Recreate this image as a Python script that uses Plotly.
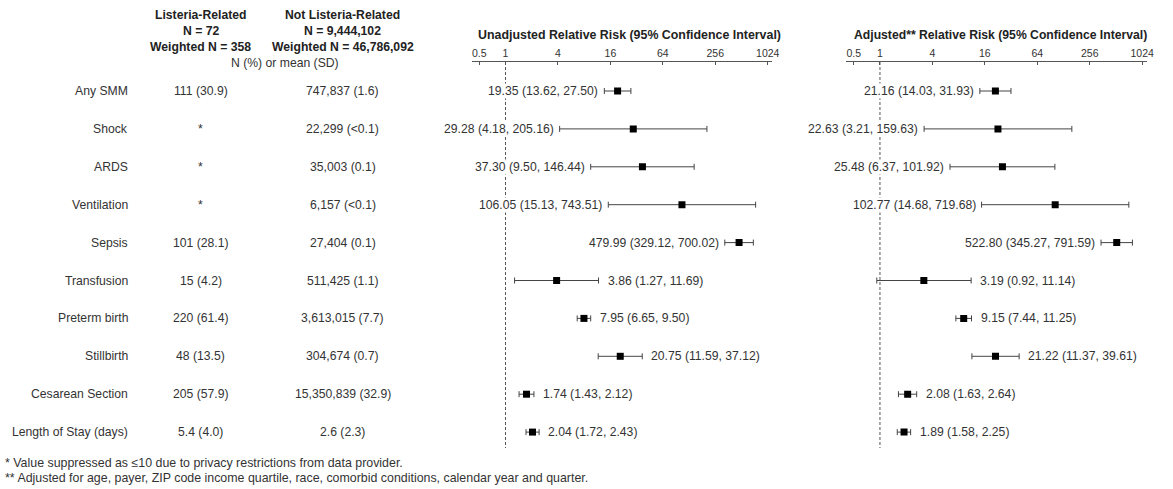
import math
import plotly.graph_objects as go

# ---------------- data ----------------
outcomes = ["Any SMM", "Shock", "ARDS", "Ventilation", "Sepsis", "Transfusion",
            "Preterm birth", "Stillbirth", "Cesarean Section", "Length of Stay (days)"]
listeria_vals = ["111 (30.9)", "*", "*", "*", "101 (28.1)", "15 (4.2)",
                 "220 (61.4)", "48 (13.5)", "205 (57.9)", "5.4 (4.0)"]
not_listeria_vals = ["747,837 (1.6)", "22,299 (<0.1)", "35,003 (0.1)", "6,157 (<0.1)",
                     "27,404 (0.1)", "511,425 (1.1)", "3,613,015 (7.7)", "304,674 (0.7)",
                     "15,350,839 (32.9)", "2.6 (2.3)"]
unadj_rr = [19.35, 29.28, 37.30, 106.05, 479.99, 3.86, 7.95, 20.75, 1.74, 2.04]
unadj_lo = [13.62, 4.18, 9.50, 15.13, 329.12, 1.27, 6.65, 11.59, 1.43, 1.72]
unadj_hi = [27.50, 205.16, 146.44, 743.51, 700.02, 11.69, 9.50, 37.12, 2.12, 2.43]
adj_rr = [21.16, 22.63, 25.48, 102.77, 522.80, 3.19, 9.15, 21.22, 2.08, 1.89]
adj_lo = [14.03, 3.21, 6.37, 14.68, 345.27, 0.92, 7.44, 11.37, 1.63, 1.58]
adj_hi = [31.93, 159.63, 101.92, 719.68, 791.59, 11.14, 11.25, 39.61, 2.64, 2.25]
label_side = ["left"] * 5 + ["right"] * 5
tick_vals = [0.5, 1, 4, 16, 64, 256, 1024]
tick_text = ["0.5", "1", "4", "16", "64", "256", "1024"]
col_headers_1 = ["Listeria-Related", "N = 72", "Weighted N = 358"]
col_headers_2 = ["Not Listeria-Related", "N = 9,444,102", "Weighted N = 46,786,092"]
sub_header = "N (%) or mean (SD)"
title_unadj = "Unadjusted Relative Risk (95% Confidence Interval)"
title_adj = "Adjusted** Relative Risk (95% Confidence Interval)"
footnotes = ["* Value suppressed as \u226410 due to privacy restrictions from data provider.",
             "** Adjusted for age, payer, ZIP code income quartile, race, comorbid conditions, calendar year and quarter."]

# ---------------- geometry ----------------
W, H = 1173, 489
FONT = "Liberation Sans, Arial, sans-serif"
TXT = "#333333"
FS = 12.2
n = len(outcomes)
rows = list(range(n))
y_top_px, y_bot_px = 62, 448
row0_px, row_step = 91, 37.9
y_range = [(n - 1) + (y_bot_px - (row0_px + (n - 1) * row_step)) / row_step,
           -(row0_px - y_top_px) / row_step]

def px_x(p):
    return p / W

def px_y(p):
    return 1 - p / H

ppd = 26.4  # pixels per doubling
def log_range(left_px, right_px, one_px):
    lo = (left_px - one_px) / ppd * math.log10(2)
    hi = (right_px - one_px) / ppd * math.log10(2)
    return [lo, hi]

ax1 = dict(left=475, right=777, one=509)
ax2 = dict(left=852, right=1155, one=886)

fig = go.Figure()

def add_panel(rr, lo, hi, xa):
    fig.add_trace(go.Scatter(
        x=[1, 1], y=[y_range[1], y_range[0]], xaxis=xa, yaxis="y", mode="lines",
        line=dict(color="#555555", width=1, dash="3px,2px"), showlegend=False, hoverinfo="skip"))
    fig.add_trace(go.Scatter(
        x=rr, y=rows, xaxis=xa, yaxis="y", mode="markers",
        marker=dict(symbol="square", size=7, color="black"),
        error_x=dict(type="data", symmetric=False,
                     array=[h - r for h, r in zip(hi, rr)],
                     arrayminus=[r - l for r, l in zip(rr, lo)],
                     color="#444444", thickness=1, width=3),
        showlegend=False))

add_panel(unadj_rr, unadj_lo, unadj_hi, "x")
add_panel(adj_rr, adj_lo, adj_hi, "x2")

annotations = []

def panel_labels(rr, lo, hi, xref):
    for i in range(n):
        txt = f"{rr[i]:.2f} ({lo[i]:.2f}, {hi[i]:.2f})"
        if label_side[i] == "left":
            annotations.append(dict(x=math.log10(lo[i]), y=i, xref=xref, yref="y", text=txt,
                                    showarrow=False, xanchor="right", xshift=-5,
                                    bgcolor="white", borderpad=0,
                                    font=dict(size=FS, color=TXT, family=FONT)))
        else:
            annotations.append(dict(x=math.log10(hi[i]), y=i, xref=xref, yref="y", text=txt,
                                    showarrow=False, xanchor="left", xshift=7,
                                    font=dict(size=FS, color=TXT, family=FONT)))

panel_labels(unadj_rr, unadj_lo, unadj_hi, "x")
panel_labels(adj_rr, adj_lo, adj_hi, "x2")

# left table
for i in range(n):
    annotations.append(dict(x=px_x(131), y=i, xref="paper", yref="y", text=outcomes[i],
                            showarrow=False, xanchor="right",
                            font=dict(size=FS, color=TXT, family=FONT)))
    annotations.append(dict(x=px_x(202), y=i, xref="paper", yref="y", text=listeria_vals[i],
                            showarrow=False, xanchor="center",
                            font=dict(size=FS, color=TXT, family=FONT)))
    annotations.append(dict(x=px_x(345), y=i, xref="paper", yref="y", text=not_listeria_vals[i],
                            showarrow=False, xanchor="center",
                            font=dict(size=FS, color=TXT, family=FONT)))

header_y = [15, 31, 47]
for k in range(3):
    annotations.append(dict(x=px_x(202), y=px_y(header_y[k]), xref="paper", yref="paper",
                            text=f"<b>{col_headers_1[k]}</b>", showarrow=False,
                            xanchor="center", yanchor="middle",
                            font=dict(size=FS, color="#222222", family=FONT)))
    annotations.append(dict(x=px_x(345), y=px_y(header_y[k]), xref="paper", yref="paper",
                            text=f"<b>{col_headers_2[k]}</b>", showarrow=False,
                            xanchor="center", yanchor="middle",
                            font=dict(size=FS, color="#222222", family=FONT)))
annotations.append(dict(x=px_x(287), y=px_y(63), xref="paper", yref="paper",
                        text=sub_header, showarrow=False, xanchor="center", yanchor="middle",
                        font=dict(size=FS, color=TXT, family=FONT)))

annotations.append(dict(x=px_x(634), y=px_y(35), xref="paper", yref="paper",
                        text=f"<b>{title_unadj}</b>", showarrow=False, xanchor="center",
                        yanchor="middle", font=dict(size=12.4, color="#222222", family=FONT)))
annotations.append(dict(x=px_x(1007), y=px_y(35), xref="paper", yref="paper",
                        text=f"<b>{title_adj}</b>", showarrow=False, xanchor="center",
                        yanchor="middle", font=dict(size=12.2, color="#222222", family=FONT)))

foot_y = [463, 478]
for k in range(2):
    annotations.append(dict(x=px_x(3), y=px_y(foot_y[k]), xref="paper", yref="paper",
                            text=footnotes[k], showarrow=False, xanchor="left", yanchor="middle",
                            font=dict(size=12.4, color=TXT, family=FONT)))

def xaxis_cfg(a):
    return dict(type="log", range=log_range(a["left"], a["right"], a["one"]),
                domain=[px_x(a["left"]), px_x(a["right"])], anchor="y", side="top",
                tickvals=tick_vals, ticktext=tick_text, ticks="inside", ticklen=3,
                tickcolor="#555555", showline=True, linecolor="#555555", linewidth=1,
                showgrid=False, zeroline=False,
                tickfont=dict(size=10.5, color=TXT, family=FONT))

fig.update_layout(
    width=W, height=H, autosize=False,
    margin=dict(l=0, r=0, t=0, b=0),
    paper_bgcolor="white", plot_bgcolor="white",
    xaxis=xaxis_cfg(ax1),
    xaxis2=xaxis_cfg(ax2),
    yaxis=dict(range=y_range, domain=[px_y(y_bot_px), px_y(y_top_px)], visible=False,
               showgrid=False, zeroline=False),
    annotations=annotations,
    showlegend=False,
)

fig.write_html("out.html", config={"displayModeBar": False},
               post_script="document.body.style.margin='0px';")
